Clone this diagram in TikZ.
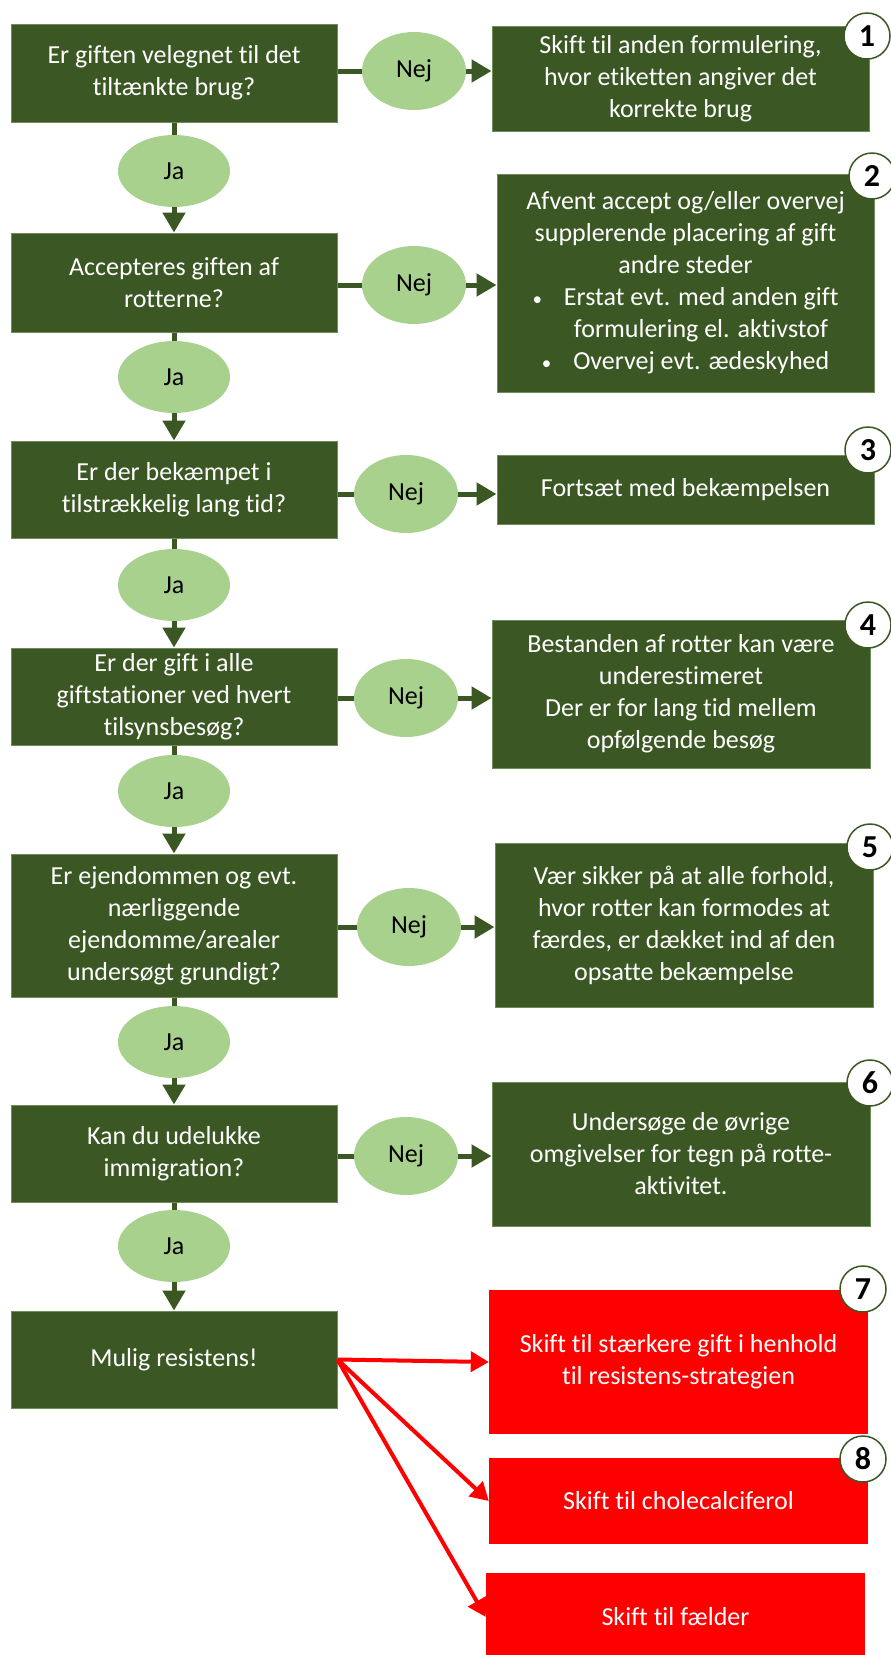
\documentclass[tikz,border=0pt]{standalone}
\usepackage{fontspec}
\setmainfont{Carlito}[Ligatures=NoCommon]
\usetikzlibrary{arrows.meta,shapes.geometric}
\definecolor{dkgreen}{RGB}{59,87,35}
\definecolor{ltgreen}{RGB}{169,209,142}
\definecolor{edgegreen}{RGB}{110,140,85}
\definecolor{alertred}{RGB}{255,0,0}
\newcommand{\smallbullet}{{\fontsize{19}{32}\selectfont\textbullet}}
\begin{document}
\begin{tikzpicture}[x=1pt,y=-1pt,
  txt/.style={font=\fontsize{26}{32}\selectfont},
  qbox/.style={txt, rectangle, fill=dkgreen, draw=edgegreen, line width=1pt,
    text=white, align=center, minimum width=326pt, inner sep=0pt},
  abox/.style={txt, rectangle, fill=dkgreen, draw=edgegreen, line width=1pt,
    text=white, align=center, inner sep=0pt},
  rbox/.style={txt, rectangle, fill=alertred, text=white, align=center, inner sep=0pt},
  nejnode/.style={txt, ellipse, fill=ltgreen, text=black, minimum width=104pt,
    minimum height=78pt, inner sep=0pt},
  janode/.style={txt, ellipse, fill=ltgreen, text=black, minimum width=112pt,
    minimum height=72pt, inner sep=0pt},
  badge/.style={circle, fill=white, draw=dkgreen, line width=1.5pt, minimum size=46pt,
    inner sep=0pt, font=\bfseries\fontsize{32}{32}\selectfont},
  link/.style={draw=dkgreen, line width=5pt},
  flow/.style={link, -{Triangle[length=20pt,width=22pt]}},
  redflow/.style={draw=alertred, line width=4pt, -{Triangle[length=18pt,width=20pt]}}
]
\useasboundingbox (0,0) rectangle (891,1655);
\fill[white] (0,0) rectangle (891,1655);

% questions on the left
\node[qbox, minimum height=98pt] (q1) at (174,73) {Er giften velegnet til det\\tiltænkte brug?};
\node[qbox, minimum height=99pt] (q2) at (174,282.5) {Accepteres giften af\\rotterne?};
\node[qbox, minimum height=97pt] (q3) at (174,489.5) {Er der bekæmpet i\\tilstrækkelig lang tid?};
\node[qbox, minimum height=97pt] (q4) at (174,696.5) {Er der gift i alle\\giftstationer ved hvert\\tilsynsbesøg?};
\node[qbox, minimum height=143pt] (q5) at (174,925.5) {Er ejendommen og evt.\\nærliggende\\ejendomme/arealer\\undersøgt grundigt?};
\node[qbox, minimum height=97pt] (q6) at (174,1153.5) {Kan du udelukke\\immigration?};
\node[qbox, minimum height=97pt] (q7) at (174,1359.5) {Mulig resistens!};

% answers on the right
\node[abox, minimum width=377pt, minimum height=105pt] (a1) at (680.5,78.5)
  {Skift til anden formulering,\\hvor etiketten angiver det\\korrekte brug};
\node[abox, minimum width=377pt, minimum height=218pt] (a2) at (685.5,283)
  {Afvent accept og/eller overvej\\supplerende placering af gift\\andre steder\\
   \smallbullet\hspace{22pt}Erstat evt. med anden gift\\
   \hspace*{31pt}formulering el. aktivstof\\
   \smallbullet\hspace{22pt}Overvej evt. ædeskyhed};
\node[abox, minimum width=377pt, minimum height=69pt] (a3) at (685.5,489.5)
  {Fortsæt med bekæmpelsen};
\node[abox, minimum width=378pt, minimum height=148pt] (a4) at (681,694)
  {Bestanden af rotter kan være\\underestimeret\\Der er for lang tid mellem\\opfølgende besøg};
\node[abox, minimum width=378pt, minimum height=164pt] (a5) at (684,925)
  {Vær sikker på at alle forhold,\\hvor rotter kan formodes at\\færdes, er dækket ind af den\\opsatte bekæmpelse};
\node[abox, minimum width=378pt, minimum height=144pt] (a6) at (681,1154)
  {Undersøge de øvrige\\omgivelser for tegn på rotte-\\aktivitet.};
\node[rbox, minimum width=379pt, minimum height=144pt] (r1) at (678.5,1362)
  {Skift til stærkere gift i henhold\\til resistens-strategien};
\node[rbox, minimum width=379pt, minimum height=86pt] (r2) at (678.5,1501)
  {Skift til cholecalciferol};
\node[rbox, minimum width=379pt, minimum height=88pt] (r3) at (675.5,1617)
  {Skift til fælder};

% yes / no labels
\node[nejnode] (n1) at (414,71) {Nej};
\node[nejnode] (n2) at (414,285) {Nej};
\node[nejnode] (n3) at (406,494) {Nej};
\node[nejnode] (n4) at (406,698) {Nej};
\node[nejnode] (n5) at (409,927) {Nej};
\node[nejnode] (n6) at (406,1156) {Nej};
\node[janode] (j1) at (174,171) {Ja};
\node[janode] (j2) at (174,377) {Ja};
\node[janode] (j3) at (174,585) {Ja};
\node[janode] (j4) at (174,791) {Ja};
\node[janode] (j5) at (174,1042) {Ja};
\node[janode] (j6) at (174,1246) {Ja};

% connectors
\foreach \i in {1,...,6}{
  \draw[link] (q\i.east |- n\i.west) -- (n\i.west);
  \draw[flow] (n\i.east) -- (n\i.east -| a\i.west);
  \draw[link] (q\i.south) -- (j\i.north);
}
\draw[flow] (j1.south) -- (q2.north);
\draw[flow] (j2.south) -- (q3.north);
\draw[flow] (j3.south) -- (q4.north);
\draw[flow] (j4.south) -- (q5.north);
\draw[flow] (j5.south) -- (q6.north);
\draw[flow] (j6.south) -- (q7.north);

\draw[redflow] (q7.east) -- (r1.west);
\draw[redflow] (q7.east) -- (r2.west);
\draw[redflow] (q7.east) -- (r3.west);

% step numbers
\node[badge] (b1) at (867,36) {1};
\node[badge] (b2) at (872,176) {2};
\node[badge] (b3) at (868,450) {3};
\node[badge] (b4) at (868,625) {4};
\node[badge] (b5) at (870,847) {5};
\node[badge] (b6) at (870,1083) {6};
\node[badge] (b7) at (863,1289) {7};
\node[badge] (b8) at (863,1459) {8};
\end{tikzpicture}
\end{document}
